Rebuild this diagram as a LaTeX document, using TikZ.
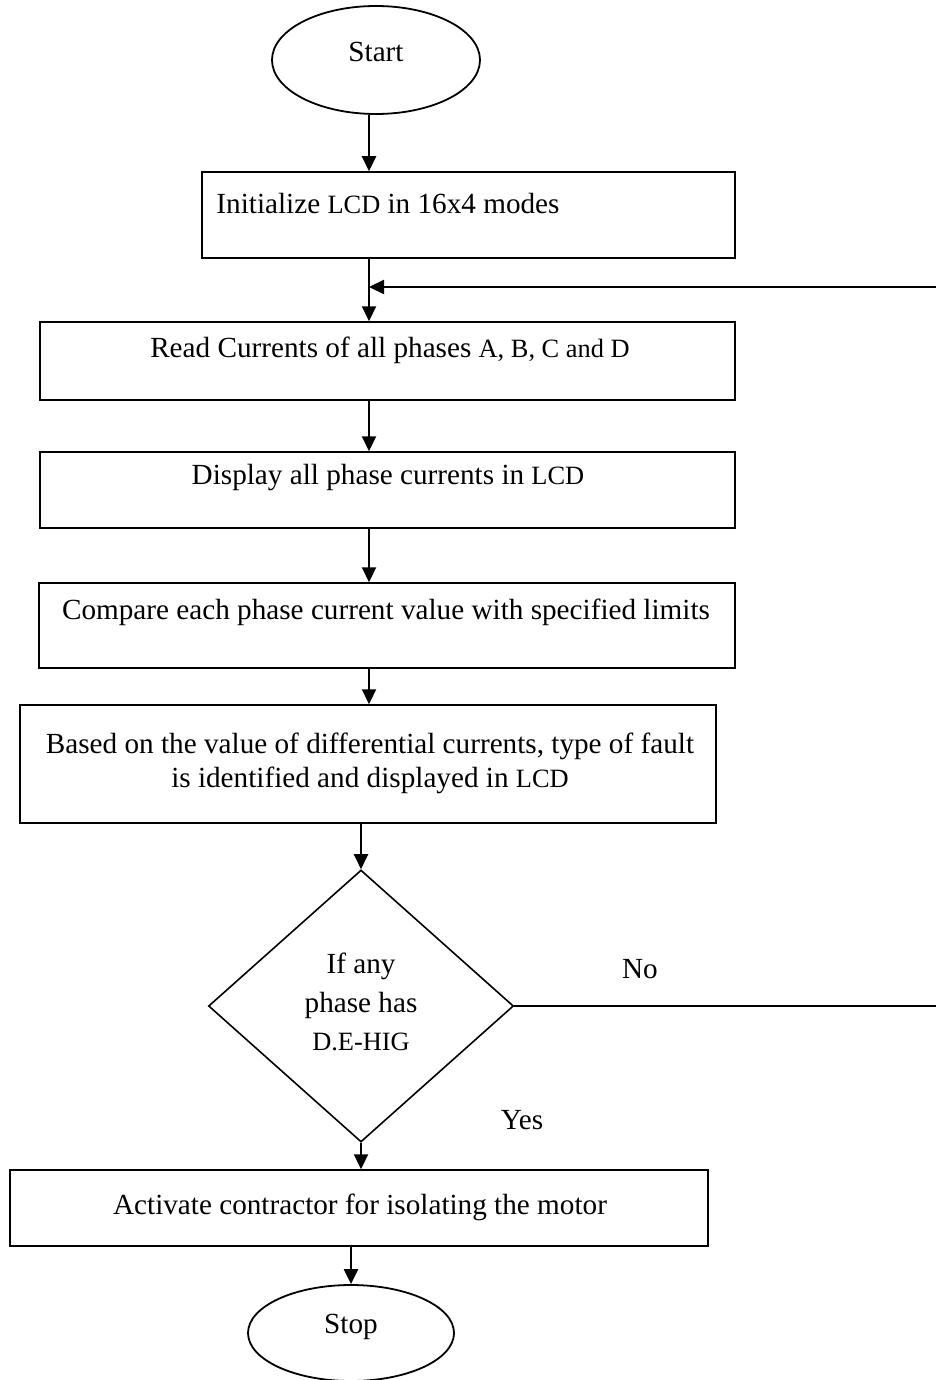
\documentclass[tikz,border=0pt]{standalone}
\usepackage{fontspec}
\setmainfont{Liberation Serif}
\usetikzlibrary{arrows.meta,shapes.geometric}
\newcommand\fsz{\fontsize{14.6}{17}\selectfont}
\newcommand\smz{\fontsize{13.2}{14}\selectfont}
\begin{document}
\begin{tikzpicture}[x=0.5pt,y=-0.5pt,
  box/.style={draw,line width=0.75pt,rectangle,inner sep=0pt},
  oval/.style={draw,line width=0.9pt,ellipse,inner sep=0pt},
  dmd/.style={draw,line width=0.8pt,diamond,inner sep=0pt},
  txt/.style={inner sep=0pt,font=\fsz},
  arr/.style={line width=1.1pt,-{Triangle[length=7.5pt,width=7pt]}},
  ln/.style={line width=1.1pt}]
\useasboundingbox (0,0) rectangle (936,1380);
% shapes
\node[oval,minimum width=104pt,minimum height=54pt] (start) at (376,60) {};
\node[box,minimum width=266.5pt,minimum height=43pt] (b1) at (468.5,215) {};
\node[box,minimum width=347.5pt,minimum height=39pt] (b2) at (387.5,361) {};
\node[box,minimum width=347.5pt,minimum height=38pt] (b3) at (387.5,490) {};
\node[box,minimum width=348pt,minimum height=42.5pt] (b4) at (387,625.5) {};
\node[box,minimum width=348pt,minimum height=59pt] (b5) at (368,764) {};
\node[dmd,minimum width=152.5pt,minimum height=136pt] (dia) at (361,1006) {};
\node[box,minimum width=349pt,minimum height=38pt] (b6) at (359,1208) {};
\node[oval,minimum width=103pt,minimum height=48pt] (stop) at (351,1333) {};
% texts
\node[txt] (tstart) at (376,52) {Start};
\node[txt] (t1) at (388,204) {Initialize {\smz LCD} in 16x4 modes};
\node[txt] (t2) at (390,350) {Read Currents of all phases {\smz A, B, C and D}};
\node[txt] (t3) at (388,478) {Display all phase currents in {\smz LCD}};
\node[txt] (t4) at (386,612) {Compare each phase current value with specified limits};
\node[txt,align=center,font=\fontsize{14.6}{17}\selectfont] (t5) at (370,763) {Based on the value of differential currents, type of fault\\is identified and displayed in {\smz LCD}};
\node[txt,align=center,font=\fontsize{14.6}{19.3}\selectfont] (td) at (361,1002) {If any\\phase has\\{\smz D.E-HIG}};
\node[txt] (t6) at (360,1207) {Activate contractor for isolating the motor};
\node[txt] (tstop) at (351,1327) {Stop};
\node[txt] (tno) at (640,969) {No};
\node[txt] (tyes) at (522,1120) {Yes};
% connector points
\coordinate (j1) at (369,287);
\coordinate (fbR) at (936,287);
\coordinate (noR) at (936,1006);
% connectors
\draw[arr] (start.south -| j1) -- (b1.north -| j1);
\draw[arr] (b1.south -| j1) -- (b2.north -| j1);
\draw[arr] (fbR) -- (j1);
\draw[arr] (b2.south -| j1) -- (b3.north -| j1);
\draw[arr] (b3.south -| j1) -- (b4.north -| j1);
\draw[arr] (b4.south -| j1) -- (b5.north -| j1);
\draw[arr] (b5.south -| dia.north) -- (dia.north);
\draw[arr] (dia.south) -- (b6.north -| dia.south);
\draw[arr] (b6.south -| stop.north) -- (stop.north);
\draw[ln] (dia.east) -- (noR);
\end{tikzpicture}
\end{document}
